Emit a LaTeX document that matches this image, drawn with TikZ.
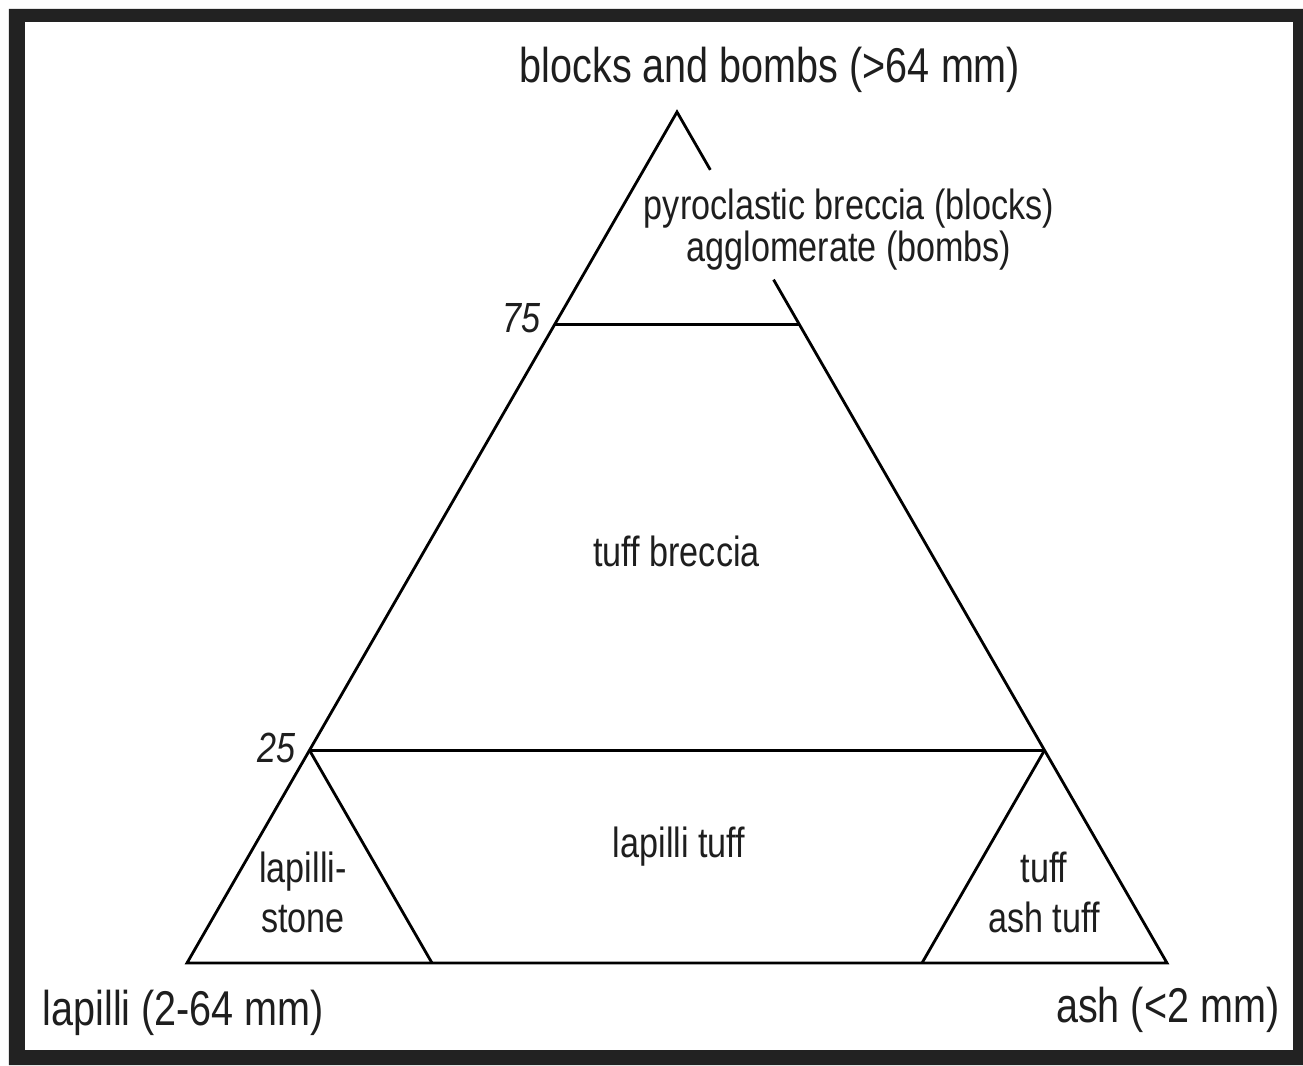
\documentclass[tikz,border=0pt]{standalone}
\usepackage{fontspec}
\setmainfont{Liberation Sans}[FakeStretch=0.81]
\usetikzlibrary{calc}
\definecolor{framegray}{RGB}{34,34,34}
\definecolor{labelgray}{RGB}{30,30,30}

\begin{document}
\begin{tikzpicture}[
  edge/.style={line width=0.8pt, black},
  corner/.style={font=\fontsize{13.9}{16}\selectfont, text=labelgray, inner sep=0pt},
  field/.style={font=\fontsize{12}{14.2}\selectfont, text=labelgray, inner sep=0pt, align=center},
  pct/.style={font=\fontsize{12}{14}\selectfont\itshape, text=labelgray, inner sep=0pt}]
\useasboundingbox (-1.87,-1.02) rectangle (11.16,9.63);
\fill[framegray, even odd rule] (-1.78,-1.02) rectangle (11.16,9.54) (-1.62,-0.87) rectangle (11.06,9.41);

\coordinate (lap) at (0,0);
\coordinate (ash) at (9.8,0);
\coordinate (blk) at (4.9,8.51);
\coordinate (l75) at ($(lap)!0.75!(blk)$);
\coordinate (r75) at ($(ash)!0.75!(blk)$);
\coordinate (l25) at ($(lap)!0.25!(blk)$);
\coordinate (r25) at ($(ash)!0.25!(blk)$);
\coordinate (gaptop) at ($(blk)!0.068!(ash)$);
\coordinate (gapbot) at ($(blk)!0.197!(ash)$);
\coordinate (lstone) at ($(lap)!0.25!(ash)$);
\coordinate (atuff) at ($(lap)!0.75!(ash)$);

\draw[edge] (gaptop) -- (blk) -- (lap) -- (ash) -- (gapbot);
\draw[edge] (l75) -- (r75);
\draw[edge] (l25) -- (r25);
\draw[edge] (l25) -- (lstone);
\draw[edge] (r25) -- (atuff);

\node[corner, anchor=base] (top) at (5.83,8.80) {blocks and bombs (>64 mm)};
\node[corner, anchor=base west] (left) at (-1.45,-0.62) {lapilli (2-64 mm)};
\node[corner, anchor=base east] (right) at (10.93,-0.59) {ash (<2 mm)};

% base of a two-line node sits on its last line
\node[field, font=\fontsize{12}{12.1}\selectfont, anchor=base] (pyro) at (6.62,7.01) {pyroclastic breccia (blocks)\\agglomerate (bombs)};
\node[field, anchor=base] (tbr) at (4.895,3.96) {tuff breccia};
\node[field, anchor=base] (ltuff) at (4.92,1.06) {lapilli tuff};
\node[field, anchor=base] (lst) at (1.16,0.31) {lapilli-\\stone};
\node[field, anchor=base] (tuff) at (8.57,0.31) {tuff\\ash tuff};

\node[pct, anchor=base east] (p75) at ($(l75)+(-0.13,-0.08)$) {75};
\node[pct, anchor=base east] (p25) at ($(l25)+(-0.13,-0.12)$) {25};
\end{tikzpicture}
\end{document}
